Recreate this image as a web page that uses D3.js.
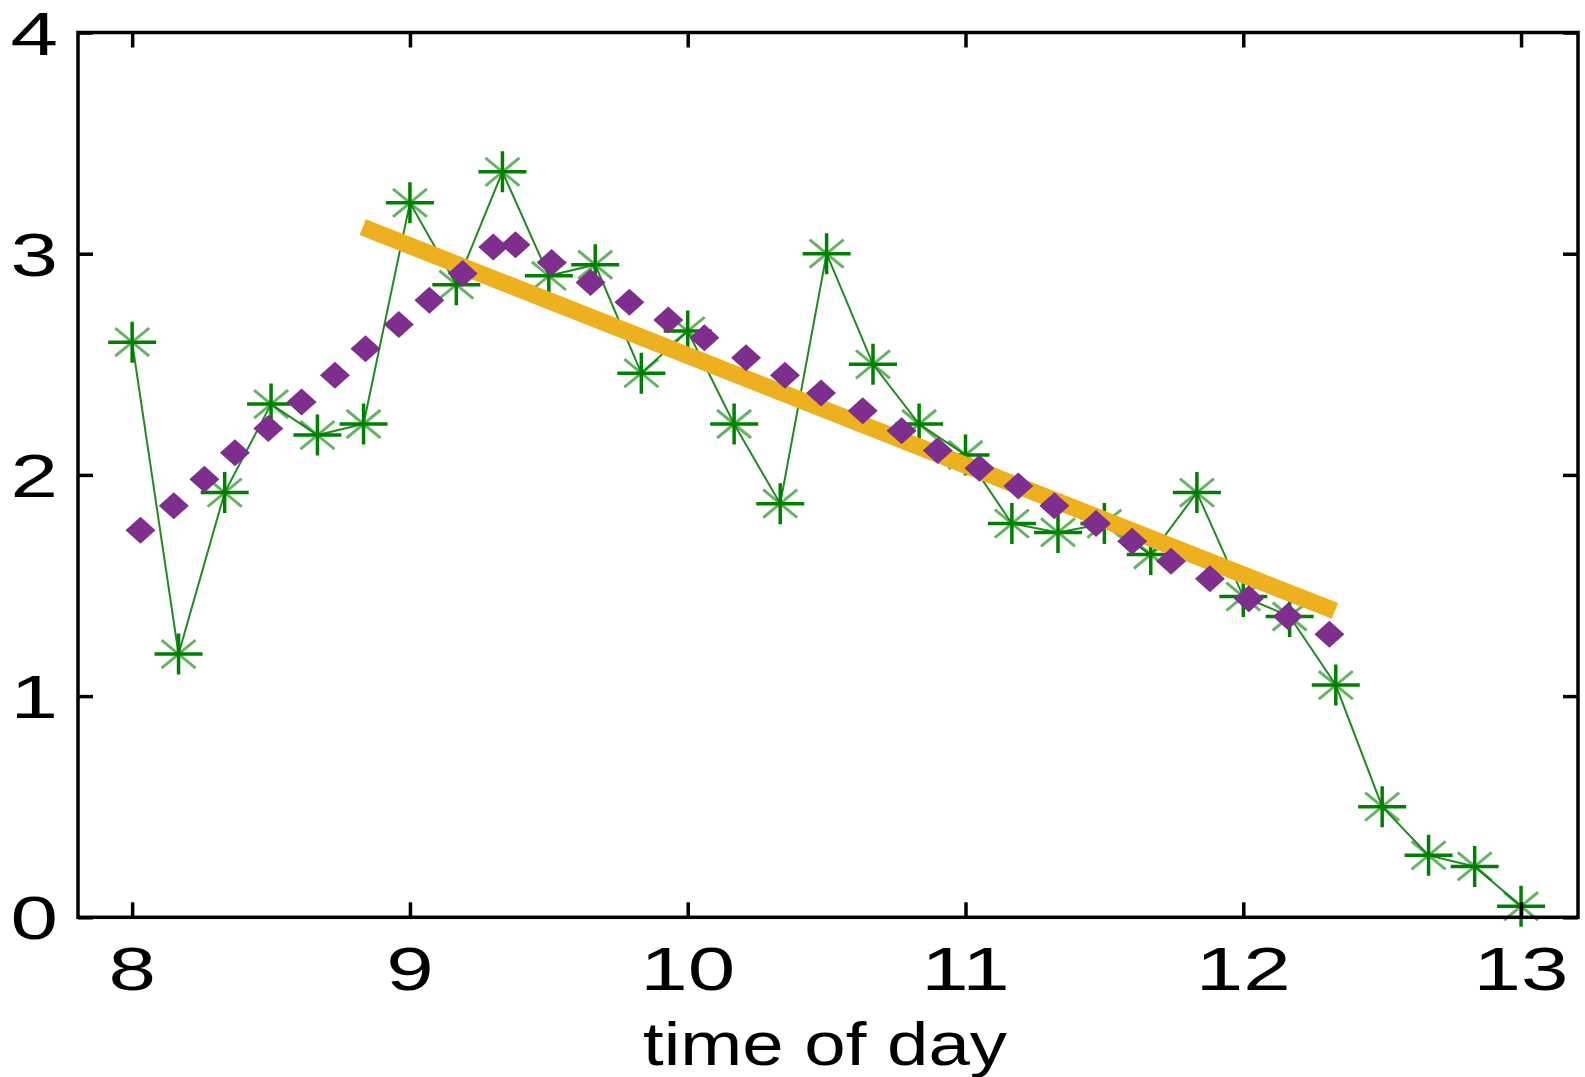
<!DOCTYPE html>
<html>
<head>
<meta charset="utf-8">
<script src="https://cdn.jsdelivr.net/npm/d3@7"></script>
<style>
  body { margin: 0; background: #fff; }
  svg { display: block; }
</style>
</head>
<body>
<svg id="chart" width="1585" height="1077"></svg>
<script>
// Tick values
const xTicks = [8, 9, 10, 11, 12, 13];
const yTicks = [0, 1, 2, 3, 4];
const xLabel = "time of day";

// Observed values, one every ten minutes
const obsTime = [8.000, 8.167, 8.333, 8.500, 8.667, 8.833, 9.000, 9.167, 9.333, 9.500,
                 9.667, 9.833, 10.000, 10.167, 10.333, 10.500, 10.667, 10.833, 11.000, 11.167,
                 11.333, 11.500, 11.667, 11.833, 12.000, 12.167, 12.333, 12.500, 12.667, 12.833,
                 13.000];
const obsRate = [2.60, 1.19, 1.92, 2.32, 2.18, 2.23, 3.23, 2.86, 3.37, 2.90,
                 2.95, 2.46, 2.65, 2.23, 1.87, 3.00, 2.50, 2.23, 2.09, 1.78,
                 1.74, 1.78, 1.64, 1.92, 1.45, 1.36, 1.05, 0.50, 0.28, 0.23,
                 0.05];

// Smoothed curve
const smoothTime = [8.03, 8.15, 8.26, 8.37, 8.49, 8.61, 8.73, 8.84, 8.96, 9.07,
                    9.19, 9.30, 9.38, 9.51, 9.65, 9.79, 9.93, 10.06, 10.21, 10.35,
                    10.48, 10.63, 10.77, 10.90, 11.05, 11.19, 11.32, 11.47, 11.60, 11.74,
                    11.88, 12.02, 12.16, 12.31];
const smoothRate = [1.75, 1.86, 1.98, 2.10, 2.21, 2.33, 2.45, 2.57, 2.68, 2.79,
                    2.91, 3.03, 3.04, 2.96, 2.87, 2.78, 2.70, 2.62, 2.53, 2.45,
                    2.37, 2.29, 2.20, 2.11, 2.03, 1.95, 1.86, 1.78, 1.70, 1.61,
                    1.53, 1.44, 1.36, 1.28];

// Linear trend over the late morning
const trendTime = [8.83, 12.33];
const trendRate = [3.12, 1.385];

const svg = d3.select("#chart");
const FONT = "'Liberation Sans', Arial, sans-serif";

const x = d3.scaleLinear().domain([7.805, 13.205]).range([78, 1578]);
const y = d3.scaleLinear().domain([0, 4]).range([917.3, 32.5]);

const [xl, xr] = x.range();
const [yb, yt] = y.range();

// Observed series: thin line with asterisk markers
const obs = obsTime.map((t, i) => [t, obsRate[i]]);
svg.append("path")
  .datum(obs)
  .attr("d", d3.line().x(d => x(d[0])).y(d => y(d[1])))
  .attr("fill", "none")
  .attr("stroke", "#1f8a1f")
  .attr("stroke-width", 2);

const stars = svg.append("g").selectAll("g")
  .data(obs)
  .join("g")
  .attr("transform", d => `translate(${x(d[0])},${y(d[1])})`);
stars.append("path")
  .attr("d", "M-17,-14L17,14M-17,14L17,-14")
  .attr("stroke", "#008000")
  .attr("stroke-opacity", 0.6)
  .attr("stroke-width", 3);
stars.append("path")
  .attr("d", "M-24,0H24M0,-20.5V20.5")
  .attr("stroke", "#008000")
  .attr("stroke-width", 3.5);

// Trend line
const trend = trendTime.map((t, i) => [t, trendRate[i]]);
svg.append("path")
  .datum(trend)
  .attr("d", d3.line().x(d => x(d[0])).y(d => y(d[1])))
  .attr("fill", "none")
  .attr("stroke", "#edb120")
  .attr("stroke-width", 17);

// Smoothed series as diamonds
svg.append("g").selectAll("path")
  .data(smoothTime.map((t, i) => [t, smoothRate[i]]))
  .join("path")
  .attr("transform", d => `translate(${x(d[0])},${y(d[1])})`)
  .attr("d", "M0,-13.5L15,0L0,13.5L-15,0Z")
  .attr("fill", "#7e2f8e");

// Inward ticks on all four sides
function styleTicks(g) {
  g.select(".domain").remove();
  g.selectAll("line").attr("stroke", "#000").attr("stroke-width", 3.5);
}
svg.append("g").attr("transform", `translate(0,${yb})`)
  .call(d3.axisBottom(x).tickValues(xTicks).tickSize(-15).tickFormat("")).call(styleTicks);
svg.append("g").attr("transform", `translate(0,${yt})`)
  .call(d3.axisTop(x).tickValues(xTicks).tickSize(-15).tickFormat("")).call(styleTicks);
svg.append("g").attr("transform", `translate(${xl},0)`)
  .call(d3.axisLeft(y).tickValues(yTicks).tickSize(-15).tickFormat("")).call(styleTicks);
svg.append("g").attr("transform", `translate(${xr},0)`)
  .call(d3.axisRight(y).tickValues(yTicks).tickSize(-15).tickFormat("")).call(styleTicks);

// Frame
svg.append("rect")
  .attr("x", xl).attr("y", yt)
  .attr("width", xr - xl).attr("height", yb - yt)
  .attr("fill", "none")
  .attr("stroke", "#000")
  .attr("stroke-width", 3.5);

// Tick labels (wide lettering)
svg.append("g").selectAll("g")
  .data(xTicks)
  .join("g")
  .attr("transform", d => `translate(${x(d)},990)`)
  .append("text")
  .attr("transform", "scale(1.4,1)")
  .attr("text-anchor", "middle")
  .attr("font-family", FONT)
  .attr("font-size", 61)
  .attr("fill", "#000")
  .text(d => d);

svg.append("g").selectAll("g")
  .data(yTicks)
  .join("g")
  .attr("transform", d => `translate(58,${y(d) + 22})`)
  .append("text")
  .attr("transform", "scale(1.4,1)")
  .attr("text-anchor", "end")
  .attr("font-family", FONT)
  .attr("font-size", 61)
  .attr("fill", "#000")
  .text(d => d);

// Axis title
svg.append("g")
  .attr("transform", `translate(${(xl + xr) / 2 - 3},1065)`)
  .append("text")
  .attr("transform", "scale(1.22,1)")
  .attr("text-anchor", "middle")
  .attr("font-family", FONT)
  .attr("font-size", 61)
  .attr("fill", "#000")
  .text(xLabel);
</script>
</body>
</html>
